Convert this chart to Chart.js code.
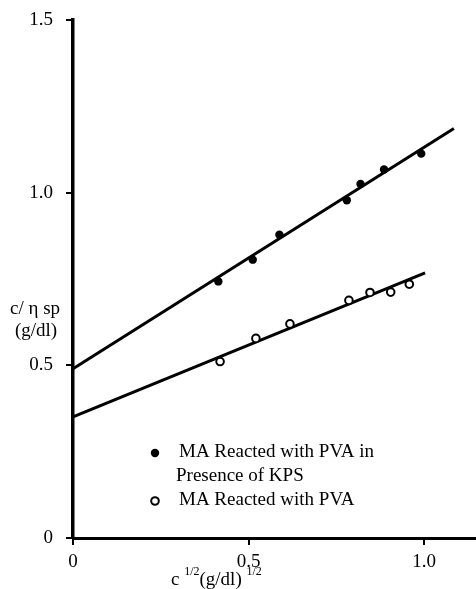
<!DOCTYPE html>
<html>
<head>
<meta charset="utf-8">
<script src="https://cdn.jsdelivr.net/npm/chart.js@4"></script>
<style>
  html, body { margin: 0; padding: 0; background: #fff; }
  #wrap { width: 476px; height: 589px; position: relative; }
</style>
</head>
<body>
<div id="wrap"><canvas id="plot"></canvas></div>
<script>
// values
const kpsX = [0.414, 0.512, 0.588, 0.780, 0.819, 0.886, 0.992];
const kpsY = [0.743, 0.806, 0.878, 0.978, 1.025, 1.067, 1.113];
const pvaX = [0.419, 0.521, 0.618, 0.786, 0.846, 0.905, 0.958];
const pvaY = [0.511, 0.578, 0.620, 0.688, 0.711, 0.712, 0.735];

// fitted straight lines (end points)
const kpsFitX = [0, 1.085];
const kpsFitY = [0.49, 1.186];
const pvaFitX = [0, 1.003];
const pvaFitY = [0.351, 0.768];

const xTicks = [0, 0.5, 1.0];
const xTickLabels = ["0", "0.5", "1.0"];
const yTickLabels = { 0: "0", 0.5: "0.5", 1: "1.0", 1.5: "1.5" };

const legendLines = [
  ["MA Reacted with PVA in", "Presence of KPS"],
  ["MA Reacted with PVA"],
];

const SERIF = "'Liberation Serif', 'DejaVu Serif', serif";

const pts = (xs, ys) => xs.map((x, i) => ({ x, y: ys[i] }));

const annotations = {
  id: "annotations",
  afterDraw(chart) {
    const ctx = chart.ctx;
    ctx.save();
    ctx.fillStyle = "#000";
    ctx.strokeStyle = "#000";

    // y axis title
    ctx.font = `19px ${SERIF}`;
    ctx.textAlign = "center";
    ctx.textBaseline = "middle";
    ctx.fillText("c/ \u03b7 sp", 35, 309);
    ctx.fillText("(g/dl)", 36, 331);

    // x axis title with superscripts
    ctx.textAlign = "left";
    ctx.textBaseline = "alphabetic";
    let x = 171;
    const base = 585;
    const big = `19px ${SERIF}`;
    const small = `12px ${SERIF}`;
    const parts = [
      ["c ", big, base],
      ["1/2", small, base - 10],
      ["(g/dl)", big, base],
      [" ", big, base],
      ["1/2", small, base - 10],
    ];
    for (const [t, f, y] of parts) {
      ctx.font = f;
      ctx.fillText(t, x, y);
      x += ctx.measureText(t).width;
    }

    // legend
    ctx.font = `19px ${SERIF}`;
    ctx.textBaseline = "middle";
    const rows = [
      { ds: 0, y: 452, lineGap: 24 },
      { ds: 1, y: 500, lineGap: 24 },
    ];
    rows.forEach((r, i) => {
      const ds = chart.data.datasets[r.ds];
      ctx.beginPath();
      ctx.arc(155, r.y + 1, ds.pointRadius, 0, Math.PI * 2);
      if (ds.pointBackgroundColor === "#000") {
        ctx.fill();
      } else {
        ctx.lineWidth = ds.pointBorderWidth;
        ctx.stroke();
      }
      legendLines[i].forEach((line, j) => {
        ctx.fillText(line, j === 0 ? 179 : 176, r.y + j * r.lineGap);
      });
    });
    ctx.restore();
  },
};

new Chart(document.getElementById("plot"), {
  type: "scatter",
  data: {
    datasets: [
      {
        label: legendLines[0].join(" "),
        data: pts(kpsX, kpsY),
        pointRadius: 4.2,
        pointBackgroundColor: "#000",
        pointBorderColor: "#000",
        pointBorderWidth: 0,
        showLine: false,
      },
      {
        label: legendLines[1].join(" "),
        data: pts(pvaX, pvaY),
        pointRadius: 3.8,
        pointBackgroundColor: "#fff",
        pointBorderColor: "#000",
        pointBorderWidth: 2,
        showLine: false,
      },
      {
        label: "fit KPS",
        data: pts(kpsFitX, kpsFitY),
        showLine: true,
        borderColor: "#000",
        borderWidth: 3,
        pointRadius: 0,
      },
      {
        label: "fit PVA",
        data: pts(pvaFitX, pvaFitY),
        showLine: true,
        borderColor: "#000",
        borderWidth: 3,
        pointRadius: 0,
      },
    ],
  },
  options: {
    responsive: true,
    maintainAspectRatio: false,
    animation: false,
    layout: { autoPadding: false, padding: { top: 20, right: 0, bottom: 0, left: 0 } },
    plugins: {
      legend: { display: false },
      tooltip: { enabled: false },
    },
    scales: {
      x: {
        type: "linear",
        min: 0,
        max: 1.148,
        afterBuildTicks: (s) => {
          s.ticks = xTicks.map((v) => ({ value: v }));
        },
        afterFit: (s) => {
          s.height = 51;
          s.paddingLeft = 0;
          s.paddingRight = 0;
        },
        border: { display: true, color: "#000", width: 3 },
        grid: {
          drawOnChartArea: false,
          drawTicks: true,
          tickLength: 7,
          tickColor: "#000",
          lineWidth: 2,
        },
        ticks: {
          color: "#000",
          padding: 6,
          maxRotation: 0,
          font: { family: SERIF, size: 19 },
          callback: (v) => xTickLabels[xTicks.indexOf(v)],
        },
      },
      y: {
        type: "linear",
        min: 0,
        max: 1.5,
        afterBuildTicks: (s) => {
          s.ticks = Object.keys(yTickLabels).map((v) => ({ value: +v }));
        },
        afterFit: (s) => {
          s.width = 73;
          s.paddingTop = 0;
          s.paddingBottom = 0;
        },
        border: { display: true, color: "#000", width: 3.5 },
        grid: {
          drawOnChartArea: false,
          drawTicks: true,
          tickLength: 7,
          tickColor: "#000",
          lineWidth: 2,
        },
        ticks: {
          color: "#000",
          padding: 13,
          font: { family: SERIF, size: 19 },
          callback: (v) => yTickLabels[v],
        },
      },
    },
  },
  plugins: [annotations],
});
</script>
</body>
</html>
